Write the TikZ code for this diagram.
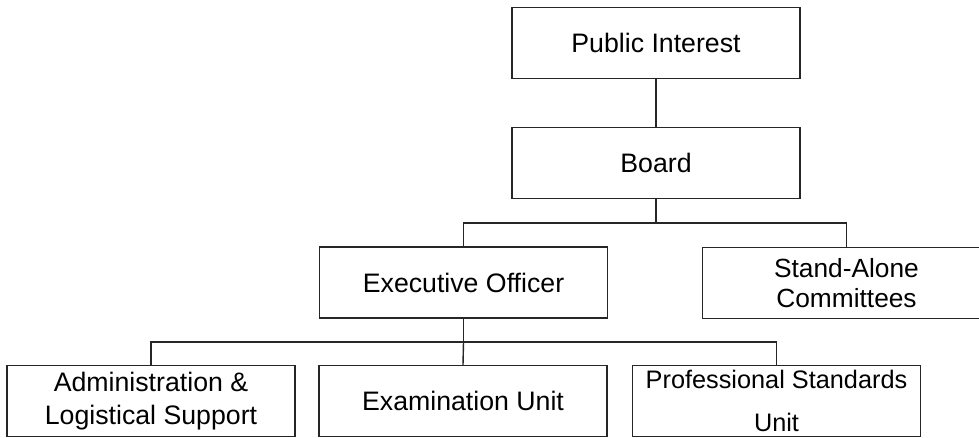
\documentclass[tikz,border=0pt]{standalone}
\usepackage{fontspec}
\setmainfont{Liberation Sans}
\begin{document}
\begin{tikzpicture}[x=1pt,y=-1pt,
  box/.style={draw=black!85,line width=1.4pt,minimum width=288pt,minimum height=71pt,inner sep=0pt,align=center,
    font=\fontsize{26.7}{31}\selectfont},
  conn/.style={draw=black!85,line width=1.4pt}]
\useasboundingbox (0,0) rectangle (979,438);
\clip (0,0) rectangle (979,438);
\node[box] (pi) at (656,43) {Public Interest};
\node[box] (board) at (656,163) {Board};
\node[box] (exec) at (463.5,282.5) {Executive Officer};
\node[box,font=\fontsize{26.3}{30.5}\selectfont] (stand) at (846.5,283) {Stand-Alone\\Committees};
\node[box,font=\fontsize{26.7}{33}\selectfont] (admin) at (151,401) {Administration \&\\Logistical Support};
\node[box] (exam) at (463,401) {Examination Unit};
\node[box,font=\fontsize{25.3}{43}\selectfont] (prof) at (776.5,401) {Professional Standards\\Unit};
\coordinate (bj) at (656,223);
\coordinate (ej) at (463.5,342);
\draw[conn] (pi.south) -- (board.north);
\draw[conn] (board.south) -- (bj);
\draw[conn] (exec.north) |- (bj) -| (stand.north);
\draw[conn] (exec.south) -- (ej);
\draw[conn] (admin.north) |- (ej) -| (prof.north);
\draw[conn] (ej) -- (exam.north);
\end{tikzpicture}
\end{document}
